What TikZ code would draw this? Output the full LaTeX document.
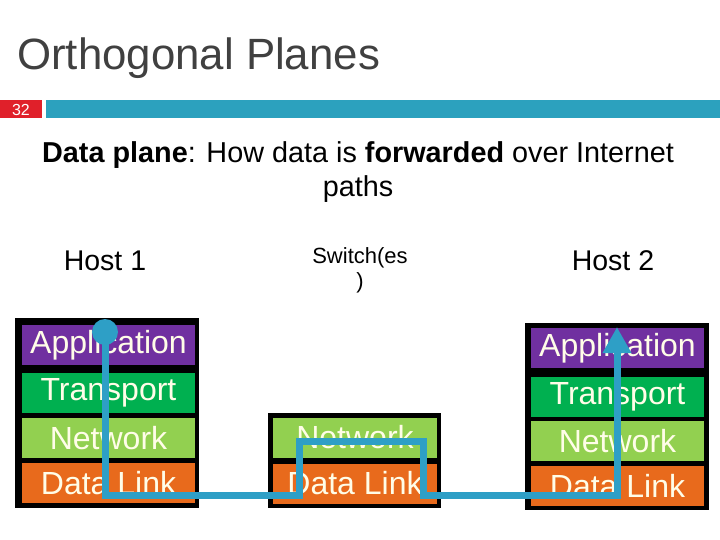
\documentclass[tikz,border=0pt]{standalone}
\usepackage{fontspec}
\setmainfont{Liberation Sans}
\usetikzlibrary{arrows.meta}
\definecolor{titlegray}{HTML}{404040}
\definecolor{barblue}{HTML}{2CA1BE}
\definecolor{numred}{HTML}{E0202A}
\definecolor{appc}{HTML}{7030A0}
\definecolor{trc}{HTML}{00B050}
\definecolor{netc}{HTML}{92D050}
\definecolor{dlc}{HTML}{E86A1C}
\definecolor{txtc}{HTML}{FFFDE8}
\definecolor{flowc}{HTML}{2E9FC6}
\tikzset{
  layer/.style={rectangle, inner sep=0pt, text=txtc, font=\fontsize{32}{32}\selectfont, minimum width=173pt, minimum height=40pt},
  swlayer/.style={layer, minimum width=164pt},
  stackbg/.style={fill=black, draw=none},
  hostlbl/.style={font=\fontsize{28.5}{30}\selectfont, text=black},
  flow/.style={draw=flowc, line width=7pt, line join=miter},
}
\begin{document}
\begin{tikzpicture}[x=1pt,y=-1pt]
\useasboundingbox (0,0) rectangle (720,540);
% title
\node[anchor=west, text=titlegray, font=\fontsize{43.8}{45}\selectfont, inner sep=0pt] (title) at (17,58) {Orthogonal Planes};
\fill[numred] (0,100) rectangle (42,118);
\node[text=white, font=\fontsize{16}{16}\selectfont, inner sep=0pt] (num) at (21,109.5) {32};
\fill[barblue] (46,100) rectangle (720,118);
% subtitle
\node[font=\fontsize{28.8}{34}\selectfont, align=center, inner sep=0pt] (sub) at (358,172) {\textbf{Data plane}: How data is \textbf{forwarded} over Internet\\paths};
% labels
\node[hostlbl] (h1lbl) at (105,261) {Host 1};
\node[font=\fontsize{22}{25}\selectfont, align=center] (swlbl) at (360,270) {Switch(es\\)};
\node[hostlbl] (h2lbl) at (613,261) {Host 2};
% host 1
\fill[stackbg] (15,318) rectangle (199,508);
\node[layer, fill=appc] (h1app) at (108.5,345) {Application};
\node[layer, fill=trc] (h1tr) at (108.5,392.5) {Transport};
\node[layer, fill=netc] (h1net) at (108.5,438) {Network};
\node[layer, fill=dlc] (h1dl) at (108.5,483) {Data Link};
% switch
\fill[stackbg] (268,413) rectangle (441,508);
\node[swlayer, fill=netc] (swnet) at (355,437.5) {Network};
\node[swlayer, fill=dlc] (swdl) at (355,483.5) {Data Link};
% host 2
\fill[stackbg] (525,323) rectangle (709,510);
\node[layer, fill=appc] (h2app) at (617.5,348) {Application};
\node[layer, fill=trc] (h2tr) at (617.5,397) {Transport};
\node[layer, fill=netc] (h2net) at (617.5,441) {Network};
\node[layer, fill=dlc] (h2dl) at (617.5,486) {Data Link};
% flow path
\node[circle, fill=flowc, minimum size=26pt, inner sep=0pt] (src) at (105,332) {};
\coordinate (c1) at (105,495);
\coordinate (c2) at (299,495);
\coordinate (c3) at (299,441);
\coordinate (c4) at (423,441);
\coordinate (c5) at (423,495);
\coordinate (c6) at (617,495);
\coordinate (dst) at (617,327);
\draw[flow, -{Triangle[width=27pt,length=26pt]}] (src.center) -- (c1) -- (c2) -- (c3) -- (c4) -- (c5) -- (c6) -- (dst);
\end{tikzpicture}
\end{document}
